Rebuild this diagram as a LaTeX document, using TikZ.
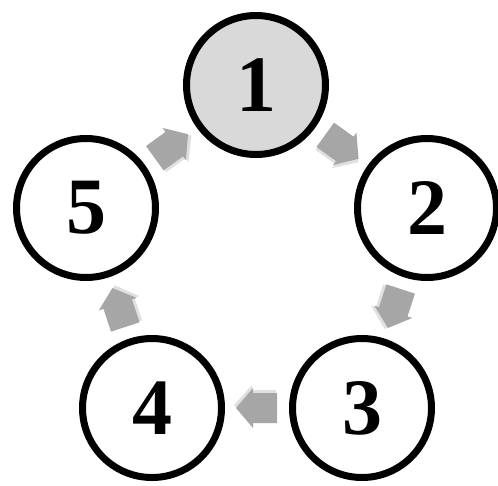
\documentclass[tikz,border=0pt]{standalone}
\usepackage{fontspec}
\setmainfont{Liberation Serif}
\usetikzlibrary{calc,shadows}
\definecolor{arrowgray}{HTML}{A6A6A6}
\definecolor{firstfill}{HTML}{D9D9D9}
\begin{document}
\begin{tikzpicture}[x=1pt,y=1pt,
  stage/.style={circle, draw=black, line width=7pt, fill=white,
    minimum size=139pt, inner sep=0pt,
    font=\fontsize{80}{80}\selectfont\bfseries,
    drop shadow={shadow xshift=2pt, shadow yshift=-3pt, opacity=0.18}},
  blockarrow/.pic={
    \fill[black, opacity=0.12] (-19,-18) -- (5,-18) -- (5,-23) -- (23,-3) -- (5,17) -- (5,12) -- (-19,12) -- cycle;
    \fill[arrowgray] (-20,-15) -- (4,-15) -- (4,-20) -- (21,0) -- (4,20) -- (4,15) -- (-20,15) -- cycle;
  }]
\useasboundingbox (0,0) rectangle (498,-485);
\node[stage, fill=firstfill] (n1) at (256,-85) {1};
\node[stage] (n2) at (427,-208) {2};
\node[stage] (n3) at (362,-408) {3};
\node[stage] (n4) at (152,-408) {4};
\node[stage] (n5) at (86,-208) {5};
\foreach \a/\b in {n1/n2,n2/n3,n3/n4,n4/n5,n5/n1}
  \path let \p1=($(\b)-(\a)$), \n1={atan2(\y1,\x1)} in
    ($(\a)!0.5!(\b)$) pic[rotate=\n1] {blockarrow};
\end{tikzpicture}
\end{document}
